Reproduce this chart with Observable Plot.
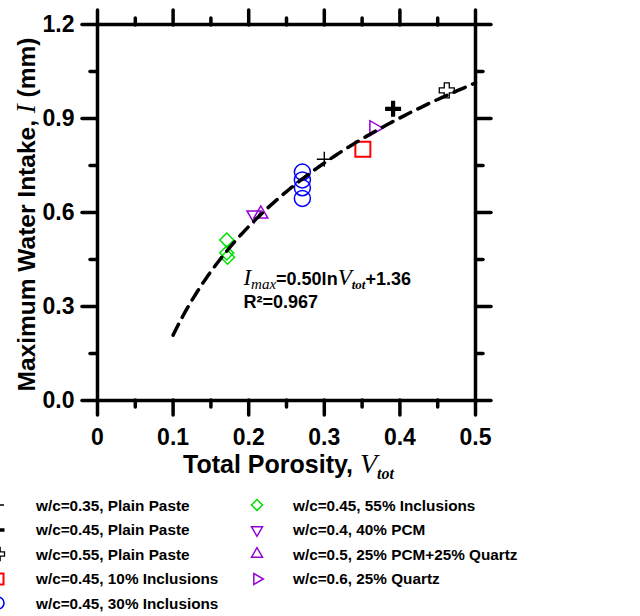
<!DOCTYPE html>
<html><head><meta charset="utf-8">
<script src="https://cdn.jsdelivr.net/npm/d3@7"></script>
<script src="https://cdn.jsdelivr.net/npm/@observablehq/plot@0.6"></script>
<style>
html,body{margin:0;padding:0;background:#fff;overflow:hidden}
#wrap{position:relative;width:640px;height:616px;font-family:'Liberation Sans',Arial,sans-serif;font-weight:bold}
#wrap svg.plot{position:absolute;left:0;top:0}
.leg{position:absolute;font-size:15.3px;white-space:nowrap;line-height:15px;color:#000}
.legsym{position:absolute;overflow:visible}
</style></head><body><div id="wrap"></div>
<script>
// ---- data ----
const seriesNames = [
  "w/c=0.35, Plain Paste",
  "w/c=0.45, Plain Paste",
  "w/c=0.55, Plain Paste",
  "w/c=0.45, 10% Inclusions",
  "w/c=0.45, 30% Inclusions",
  "w/c=0.45, 55% Inclusions",
  "w/c=0.4, 40% PCM",
  "w/c=0.5, 25% PCM+25% Quartz",
  "w/c=0.6, 25% Quartz"
];
const seriesV = [[0.300],[0.391],[0.462],[0.351],[0.271,0.271,0.271,0.271],[0.171,0.171,0.172],[0.207],[0.216],[0.366]];
const seriesI = [[0.770],[0.931],[0.990],[0.802],[0.729,0.704,0.679,0.645],[0.512,0.471,0.457],[0.592],[0.595],[0.869]];
const xTicks = [0, 0.1, 0.2, 0.3, 0.4, 0.5];
const xTickLabels = ["0", "0.1", "0.2", "0.3", "0.4", "0.5"];
const xMinorTicks = [0.05, 0.15, 0.25, 0.35, 0.45];
const yTicks = [0, 0.3, 0.6, 0.9, 1.2];
const yTickLabels = ["0.0", "0.3", "0.6", "0.9", "1.2"];
const yMinorTicks = [0.15, 0.45, 0.75, 1.05];
const fitA = 0.50, fitB = 1.36, fitR2 = "0.967";
const fitVRange = [0.1, 0.5];
const xLabel = "Total Porosity, Vtot";
const yLabel = "Maximum Water Intake, I (mm)";

// ---- styles ----
const R = s => Math.sqrt(s / Math.PI);
const symbols = {
  plus: {draw(c, s) { const r = R(s); c.moveTo(-r, 0); c.lineTo(r, 0); c.moveTo(0, -r); c.lineTo(0, r); }},
  openCross: {draw(c, s) { const r = R(s), a = r / 3;
    c.moveTo(-a, -r); c.lineTo(a, -r); c.lineTo(a, -a); c.lineTo(r, -a); c.lineTo(r, a); c.lineTo(a, a);
    c.lineTo(a, r); c.lineTo(-a, r); c.lineTo(-a, a); c.lineTo(-r, a); c.lineTo(-r, -a); c.lineTo(-a, -a); c.closePath(); }},
  square: {draw(c, s) { const r = R(s); c.rect(-r, -r, 2 * r, 2 * r); }},
  circle: {draw(c, s) { const r = R(s); c.moveTo(r, 0); c.arc(0, 0, r, 0, 2 * Math.PI); c.closePath(); }},
  diamond: {draw(c, s) { const r = R(s); c.moveTo(0, -r); c.lineTo(r, 0); c.lineTo(0, r); c.lineTo(-r, 0); c.closePath(); }},
  triDown: {draw(c, s) { const r = R(s); c.moveTo(-r, -0.577 * r); c.lineTo(r, -0.577 * r); c.lineTo(0, 1.155 * r); c.closePath(); }},
  triUp: {draw(c, s) { const r = R(s); c.moveTo(-r, 0.577 * r); c.lineTo(r, 0.577 * r); c.lineTo(0, -1.155 * r); c.closePath(); }},
  triRight: {draw(c, s) { const r = R(s); c.moveTo(-0.577 * r, -r); c.lineTo(-0.577 * r, r); c.lineTo(1.155 * r, 0); c.closePath(); }}
};
const purple = "#9400d3";
const seriesStyle = [
  {symbol: "plus", stroke: "#000", fill: "none", sw: 1.4, r: 7.5, lr: 6, lsw: 1.4},
  {symbol: "plus", stroke: "#000", fill: "none", sw: 4.2, r: 8, lr: 6.5, lsw: 3.5},
  {symbol: "openCross", stroke: "#000", fill: "#fff", sw: 1.3, r: 7.5, lr: 6.5, lsw: 1.3},
  {symbol: "square", stroke: "#ff0000", fill: "none", sw: 2, r: 7.5, lr: 5.5, lsw: 2},
  {symbol: "circle", stroke: "#0000ff", fill: "none", sw: 1.5, r: 8, lr: 6, lsw: 1.6},
  {symbol: "diamond", stroke: "#00e000", fill: "none", sw: 1.5, r: 7, lr: 5.5, lsw: 1.5},
  {symbol: "triDown", stroke: purple, fill: "none", sw: 1.5, r: 7, lr: 5.5, lsw: 1.5},
  {symbol: "triUp", stroke: purple, fill: "none", sw: 1.5, r: 7, lr: 5.5, lsw: 1.5},
  {symbol: "triRight", stroke: purple, fill: "none", sw: 1.5, r: 7.5, lr: 5.5, lsw: 1.5}
];

// fit curve from the equation printed on the chart
const fitData = d3.range(0, 121).map(k => {
  const v = fitVRange[0] + (fitVRange[1] - fitVRange[0]) * k / 120;
  return {v, i: fitA * Math.log(v) + fitB};
});
const eqText = "Imax=0.50lnVtot+1.36";
const annotations = [
  {x: 0.193, y: 0.388, text: eqText},
  {x: 0.193, y: 0.313, text: "R\u00b2=" + fitR2}
];

const marks = [];
seriesNames.forEach((name, k) => {
  const st = seriesStyle[k];
  const pts = seriesV[k].map((v, j) => ({v, i: seriesI[k][j]}));
  marks.push(Plot.dot(pts, {x: "v", y: "i", symbol: symbols[st.symbol], r: st.r,
    stroke: st.stroke, fill: st.fill, strokeWidth: st.sw}));
});
marks.push(Plot.line(fitData, {x: "v", y: "i", stroke: "#000", strokeWidth: 3.5, strokeDasharray: "12,8"}));
marks.push(Plot.frame({stroke: "#000", strokeWidth: 3.5}));
const tickStyle = {strokeWidth: 3.5, strokeLinecap: "round", label: null};
marks.push(
  Plot.axisX({anchor: "bottom", ticks: xTicks, tickSize: 15, tickPadding: 13, fontSize: 23,
    tickFormat: d => xTickLabels[xTicks.indexOf(d)], ...tickStyle}),
  Plot.axisX({anchor: "bottom", ticks: xMinorTicks, tickSize: 7, text: null, ...tickStyle}),
  Plot.axisX({anchor: "top", ticks: xTicks, tickSize: 15, text: null, ...tickStyle}),
  Plot.axisX({anchor: "top", ticks: xMinorTicks, tickSize: 7, text: null, ...tickStyle}),
  Plot.axisY({anchor: "left", ticks: yTicks, tickSize: 15, tickPadding: 8, fontSize: 23,
    tickFormat: d => yTickLabels[yTicks.indexOf(d)], ...tickStyle}),
  Plot.axisY({anchor: "left", ticks: yMinorTicks, tickSize: 7, text: null, ...tickStyle}),
  Plot.axisY({anchor: "right", ticks: yTicks, tickSize: 15, text: null, ...tickStyle}),
  Plot.axisY({anchor: "right", ticks: yMinorTicks, tickSize: 7, text: null, ...tickStyle})
);
marks.push(Plot.text([yLabel], {text: d => d, frameAnchor: "left", textAnchor: "middle", lineAnchor: "middle", rotate: -90, dx: -70, dy: 2, fontSize: 24.5}));
marks.push(Plot.text([xLabel], {text: d => d, frameAnchor: "bottom", textAnchor: "middle", lineAnchor: "top", dy: 55, dx: 2, fontSize: 25}));
marks.push(Plot.text(annotations, {x: "x", y: "y", text: "text", textAnchor: "start", fontSize: 18}));

const svg = Plot.plot({
  width: 640, height: 490,
  marginLeft: 97, marginRight: 165, marginTop: 24, marginBottom: 90,
  x: {domain: [0, 0.5]},
  y: {domain: [0, 1.2]},
  style: {fontFamily: "'Liberation Sans', Arial, sans-serif", fontWeight: "bold", color: "#000", background: "#fff", overflow: "visible"},
  marks
});
svg.classList.add("plot");
document.getElementById("wrap").appendChild(svg);

// rich text (italic serif symbols, subscripts): match the text elements by content
const SERIF = "'Liberation Serif','DejaVu Serif',serif";
function rich(content, parts) {
  d3.select(svg).selectAll("text").filter(function () { return this.textContent === content; }).each(function () {
    const t = d3.select(this); t.text(null);
    for (const p of parts) {
      const s = t.append("tspan").text(p.t);
      if (p.serif) s.attr("font-family", SERIF).attr("font-style", "italic");
      if (p.normal) s.attr("font-weight", "normal");
      if (p.size) s.attr("font-size", p.size);
      if (p.dy) s.attr("dy", p.dy);
    }
  });
}
rich(yLabel, [{t: "Maximum Water Intake, "}, {t: "I", serif: 1, normal: 1, size: 27}, {t: " (mm)"}]);
rich(xLabel, [{t: "Total Porosity, "}, {t: "V", serif: 1, normal: 1, size: 28}, {t: "tot", serif: 1, size: 16, dy: 6}]);
rich(eqText, [
  {t: "I", serif: 1, normal: 1, size: 23}, {t: "max", serif: 1, normal: 1, size: 15, dy: 4},
  {t: "=0.50ln", dy: -4}, {t: "V", serif: 1, normal: 1, size: 23}, {t: "tot", serif: 1, size: 13, dy: 4}, {t: "+1.36", dy: -4}
]);

// legend below the plot
const wrap = document.getElementById("wrap");
const legendCols = [{symX: -2, textX: 36, items: [0, 1, 2, 3, 4]}, {symX: 257, textX: 293, items: [5, 6, 7, 8]}];
const legendTop = 505, legendStep = 24.5;
legendCols.forEach(col => col.items.forEach((k, row) => {
  const cy = legendTop + row * legendStep;
  const st = seriesStyle[k];
  const p = d3.path(); symbols[st.symbol].draw(p, Math.PI * st.lr * st.lr);
  const s = d3.select(wrap).append("svg").attr("class", "legsym")
    .attr("width", 24).attr("height", 24)
    .style("left", (col.symX - 12) + "px").style("top", (cy - 12) + "px");
  s.append("path").attr("d", p.toString()).attr("transform", "translate(12,12)")
    .attr("stroke", st.stroke).attr("fill", st.fill).attr("stroke-width", st.lsw);
  d3.select(wrap).append("div").attr("class", "leg")
    .style("left", col.textX + "px").style("top", (cy - 7.5) + "px").text(seriesNames[k]);
}));
</script>
</body></html>
